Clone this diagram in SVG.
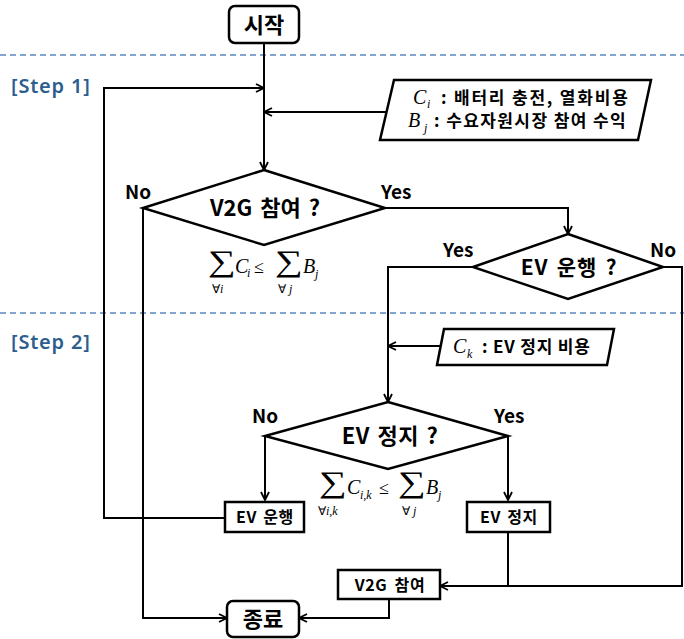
<svg xmlns="http://www.w3.org/2000/svg" width="684" height="639" viewBox="0 0 684 639">
<defs>
<marker id="arr" viewBox="0 0 10 10" refX="9.5" refY="5" markerWidth="10" markerHeight="10" markerUnits="userSpaceOnUse" orient="auto">
<path d="M1.5,1 L9.5,5 L1.5,9" fill="none" stroke="#000" stroke-width="1.8"/>
</marker>
</defs>
<style>
.k{font-family:"Noto Sans CJK KR","Noto Sans",sans-serif;font-weight:bold;fill:#000}
.c{text-anchor:middle}
.step{font-family:"Noto Sans","Noto Sans CJK KR",sans-serif;font-weight:600;font-size:20px;letter-spacing:0.8px;fill:#2E5E8E}
.m{font-family:"Liberation Serif",serif;font-style:italic;fill:#000}
.u{font-family:"Liberation Serif",serif;fill:#000}
.sig{font-family:"Liberation Serif",serif;fill:#000;font-size:30px}
.shape{fill:#fff;stroke:#000;stroke-width:2.5}
.dash{stroke:#5B86BE;stroke-width:1.5;stroke-dasharray:6 4;fill:none}
#connectors path{fill:none;stroke:#000;stroke-width:2}
</style>
<rect width="684" height="639" fill="#fff"/>

<line class="dash" x1="0" y1="55" x2="684" y2="55"/>
<line class="dash" x1="0" y1="313" x2="684" y2="313"/>
<text class="step" x="11" y="93">[Step 1]</text>
<text class="step" x="11" y="349">[Step 2]</text>

<g id="connectors">
<path d="M264,43 V170" marker-end="url(#arr)"/>
<path d="M225,518 H104 V88 H264" marker-end="url(#arr)"/>
<path d="M386,112 H264" marker-end="url(#arr)"/>
<path d="M385,208 H568 V234" marker-end="url(#arr)"/>
<path d="M143,208 V618 H227" marker-end="url(#arr)"/>
<path d="M473,267 H388 V402" marker-end="url(#arr)"/>
<path d="M663,267 H682 V586 H440" marker-end="url(#arr)"/>
<path d="M441,346 H388" marker-end="url(#arr)"/>
<path d="M265,436 V500" marker-end="url(#arr)"/>
<path d="M508,436 V500" marker-end="url(#arr)"/>
<path d="M508,532 V586"/>
<path d="M389,599 V618 H299" marker-end="url(#arr)"/>
</g>

<g id="start">
<rect class="shape" x="229" y="6" width="70" height="37" rx="6"/>
<text class="k c" x="264" y="33" font-size="22">시작</text>
</g>

<g id="input1">
<polygon class="shape" points="394,80 651,80 638,140 380,140"/>
<text class="m" x="413" y="104" font-size="20">C</text>
<text class="m" x="427" y="108" font-size="12">i</text>
<text class="k" x="441" y="104" font-size="17" letter-spacing="1.8">: 배터리 충전, 열화비용</text>
<text class="m" x="408" y="127" font-size="20">B</text>
<text class="m" x="424" y="132" font-size="12">j</text>
<text class="k" x="434" y="127" font-size="17" letter-spacing="1.4">: 수요자원시장 참여 수익</text>
</g>

<g id="v2g-decision">
<polygon class="shape" points="264,170 385,208 264,245 143,208"/>
<text class="k c" x="265" y="216" font-size="22" word-spacing="3">V2G 참여 ?</text>
<text class="k" x="125" y="199" font-size="19">No</text>
<text class="k" x="381" y="199" font-size="19">Yes</text>
<text class="sig" transform="translate(208,271) scale(1.3,1)">∑</text>
<text class="m" x="235" y="273" font-size="20">C</text>
<text class="m" x="247" y="277" font-size="12">i</text>
<text class="u" x="254" y="273" font-size="18">≤</text>
<text class="sig" transform="translate(275,271) scale(1.3,1)">∑</text>
<text class="m" x="303" y="273" font-size="20">B</text>
<text class="m" x="315" y="278" font-size="12">j</text>
<text class="u" x="212" y="293" font-size="12">∀<tspan class="m">i</tspan></text>
<text class="u" x="278" y="293" font-size="12">∀ <tspan class="m">j</tspan></text>
</g>

<g id="ev-drive-decision">
<polygon class="shape" points="568,234 663,267 568,299 473,267"/>
<text class="k c" x="569" y="275" font-size="21" letter-spacing="0.8" word-spacing="3">EV 운행 ?</text>
<text class="k" x="443" y="257" font-size="19">Yes</text>
<text class="k" x="650" y="257" font-size="19">No</text>
</g>

<g id="input2">
<polygon class="shape" points="444,329 614,329 607,365 437,365"/>
<text class="m" x="453" y="353" font-size="20">C</text>
<text class="m" x="467" y="358" font-size="12">k</text>
<text class="k" x="482" y="353" font-size="17" letter-spacing="0.8">: EV 정지 비용</text>
</g>

<g id="ev-stop-decision">
<polygon class="shape" points="388,402 508,436 388,469 265,436"/>
<text class="k c" x="390" y="444" font-size="22" letter-spacing="0.5" word-spacing="2">EV 정지 ?</text>
<text class="k" x="252" y="423" font-size="19">No</text>
<text class="k" x="494" y="423" font-size="19">Yes</text>
<text class="sig" transform="translate(319,492) scale(1.3,1)">∑</text>
<text class="m" x="347" y="494" font-size="20">C</text>
<text class="m" x="360" y="499" font-size="12">i,k</text>
<text class="u" x="379" y="494" font-size="18">≤</text>
<text class="sig" transform="translate(398,492) scale(1.3,1)">∑</text>
<text class="m" x="426" y="494" font-size="20">B</text>
<text class="m" x="438" y="499" font-size="12">j</text>
<text class="u" x="318" y="515" font-size="12">∀<tspan class="m">i,k</tspan></text>
<text class="u" x="402" y="515" font-size="12">∀ <tspan class="m">j</tspan></text>
</g>

<g id="ev-drive">
<rect class="shape" x="225" y="502" width="79" height="30"/>
<text class="k c" x="265" y="523" font-size="16" letter-spacing="0.6" word-spacing="2">EV 운행</text>
</g>

<g id="ev-stop">
<rect class="shape" x="467" y="502" width="83" height="30"/>
<text class="k c" x="509" y="523" font-size="16" letter-spacing="0.6" word-spacing="2">EV 정지</text>
</g>

<g id="v2g-join">
<rect class="shape" x="338" y="570" width="102" height="29"/>
<text class="k c" x="390" y="591" font-size="16" letter-spacing="0.6" word-spacing="3">V2G 참여</text>
</g>

<g id="end">
<rect class="shape" x="227" y="601" width="72" height="36" rx="6"/>
<text class="k c" x="263" y="627" font-size="22">종료</text>
</g>
</svg>
